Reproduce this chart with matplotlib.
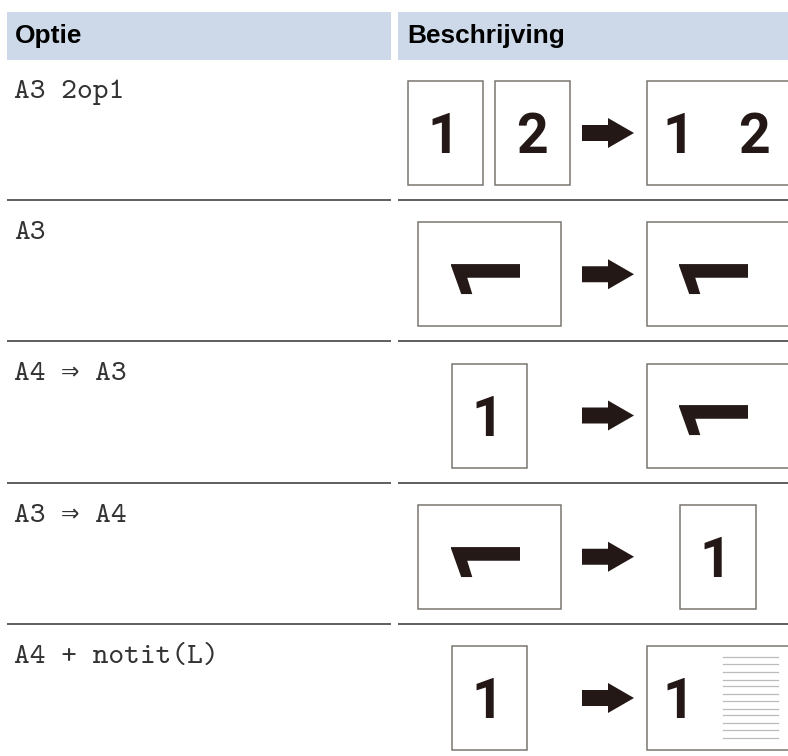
import matplotlib
matplotlib.use("Agg")
import matplotlib.pyplot as plt
from matplotlib.patches import Rectangle, Polygon

headers = ["Optie", "Beschrijving"]
options = ["A3 2op1", "A3", "A4 \u21d2 A3", "A3 \u21d2 A4", "A4 + notit(L)"]

# what stands left and right of the arrow in each row
left_pages = [["P1", "P2"], ["L"], ["P"], ["L"], ["P"]]
right_pages = ["L12", "L", "L", "P", "LN"]
note_gaps = [0, 7, 15, 23, 29, 37, 44, 52, 58, 66, 73, 81]

W, H = 788, 756
MONO = ["cmtt10", "DejaVu Sans Mono"]
DIGIT = "Roboto"
EDGE = "#7a7672"
INK = "#231815"

fig = plt.figure(figsize=(W / 100, H / 100), dpi=100)
ax = fig.add_axes([0, 0, 1, 1])
ax.set_xlim(0, W)
ax.set_ylim(H, 0)
ax.axis("off")


def page(x0, x1, y0):
    ax.add_patch(Rectangle((x0, y0), x1 - x0, 104, fc="white", ec=EDGE, lw=1.1))


def digit(x, mid, s):
    ax.text(x, mid + 20, s, family=DIGIT, weight="bold", fontsize=40,
            color=INK, ha="center", va="baseline")


def flat_one(x, mid):
    # x is where the foot of the 1 ends
    ax.text(x, mid - 8, "1", family=DIGIT, weight="bold", fontsize=70,
            color=INK, ha="center", va="baseline", rotation=90, rotation_mode="anchor")


def arrow(yc):
    pts = [(582, yc - 8), (608, yc - 8), (608, yc - 15), (634, yc),
           (608, yc + 15), (608, yc + 8), (582, yc + 8)]
    ax.add_patch(Polygon(pts, closed=True, fc=INK, ec="none"))


# header cells
ax.add_patch(Rectangle((7, 12), 384, 48, fc="#cdd8e8", ec="none"))
ax.add_patch(Rectangle((398, 12), 390, 48, fc="#cdd8e8", ec="none"))
ax.text(15, 43, headers[0], family="Liberation Sans", weight="bold", fontsize=18.9,
        color="black", va="baseline")
ax.text(407, 43, headers[1], family="Liberation Sans", weight="bold", fontsize=18.9,
        color="black", va="baseline")

row_h = 141.25
for i, opt in enumerate(options):
    top = 81 + i * row_h
    mid = top + 52
    ax.text(14, 98 + i * row_h, opt, family=MONO, fontsize=21.6, color="#333333",
            va="baseline")

    # left side
    left = left_pages[i]
    if left == ["P1", "P2"]:
        page(408, 483, top)
        page(495, 570, top)
        digit(443, mid, "1")
        digit(532, mid, "2")
    elif left == ["L"]:
        page(418, 561, top)
        flat_one(513, mid)
    else:
        page(452, 527, top)
        digit(487, mid, "1")

    arrow(mid)

    # right side
    right = right_pages[i]
    if right == "P":
        page(680, 756, top)
        digit(715, mid, "1")
    else:
        page(647, 795, top)
        if right == "L12":
            digit(678, mid, "1")
            digit(754, mid, "2")
        elif right == "L":
            flat_one(741, mid)
        else:
            digit(678, mid, "1")
            for g in note_gaps:
                ax.plot([723, 778], [top + 11 + g, top + 11 + g], color="#bbbbbb", lw=0.9)

    # rule under the row
    if i < len(options) - 1:
        rule = 200 + i * row_h
        ax.plot([7, 391], [rule, rule], color="#333333", lw=1.1, solid_capstyle="butt")
        ax.plot([398, 788], [rule, rule], color="#333333", lw=1.1, solid_capstyle="butt")

fig.savefig("out.png", dpi=100)
